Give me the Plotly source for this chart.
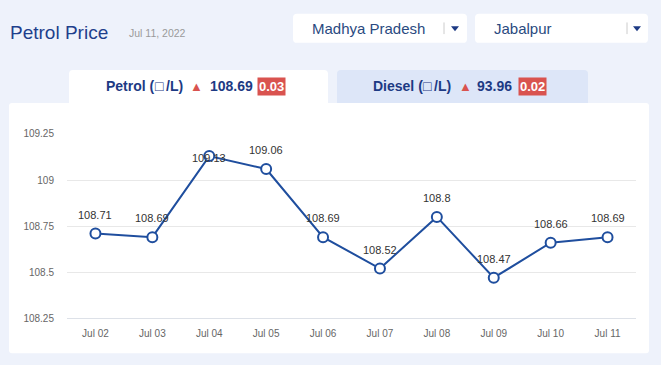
import plotly.graph_objects as go

# ---- data ----
dates = ["Jul 02", "Jul 03", "Jul 04", "Jul 05", "Jul 06", "Jul 07", "Jul 08", "Jul 09", "Jul 10", "Jul 11"]
petrol_prices = [108.71, 108.69, 109.13, 109.06, 108.69, 108.52, 108.80, 108.47, 108.66, 108.69]
y_ticks = [108.25, 108.5, 108.75, 109, 109.25]
y_tick_labels = ["108.25", "108.5", "108.75", "109", "109.25"]

title_text = "Petrol Price"
date_text = "Jul 11, 2022"
state_text = "Madhya Pradesh"
city_text = "Jabalpur"
petrol_tab = ("Petrol (", "\u25a1", "/L)", "108.69", "0.03")
diesel_tab = ("Diesel (", "\u25a1", "/L)", "93.96", "0.02")

# ---- geometry helpers (pixel -> paper) ----
W, H = 661, 365
def X(x): return x / W
def Y(y): return 1 - y / H

def rrect(x0, y0, x1, y1, r, top_only=False):
    rb = 0 if top_only else r
    pts = [
        f"M {X(x0+r)},{Y(y0)}",
        f"L {X(x1-r)},{Y(y0)}",
        f"Q {X(x1)},{Y(y0)} {X(x1)},{Y(y0+r)}",
        f"L {X(x1)},{Y(y1-rb)}",
        f"Q {X(x1)},{Y(y1)} {X(x1-rb)},{Y(y1)}",
        f"L {X(x0+rb)},{Y(y1)}",
        f"Q {X(x0)},{Y(y1)} {X(x0)},{Y(y1-rb)}",
        f"L {X(x0)},{Y(y0+r)}",
        f"Q {X(x0)},{Y(y0)} {X(x0+r)},{Y(y0)}",
        "Z",
    ]
    return " ".join(pts)

BG = "#eef2fb"
BLUE = "#1f4e9e"
DARK = "#1d3a84"
RED = "#d9534f"
FONT = "Liberation Sans, Arial, sans-serif"

# plot area in pixels
PX0, PX1 = 67, 636
PY_TOP, PY_BOT = 133, 323

fig = go.Figure()
fig.add_trace(go.Scatter(
    x=dates, y=petrol_prices, mode="lines+markers",
    line=dict(color=BLUE, width=2),
    marker=dict(size=10, color="white", line=dict(color=BLUE, width=2)),
    cliponaxis=False, hoverinfo="x+y", showlegend=False,
))

shapes = []
# white panel
shapes.append(dict(type="path", path=rrect(9, 101, 649, 359, 3), xref="paper", yref="paper",
                   fillcolor="white", line=dict(width=0), layer="below"))
# tabs
shapes.append(dict(type="path", path=rrect(69, 67, 328, 102, 4, top_only=True), xref="paper", yref="paper",
                   fillcolor="white", line=dict(width=0), layer="below"))
shapes.append(dict(type="path", path=rrect(337, 67, 588, 101, 4, top_only=True), xref="paper", yref="paper",
                   fillcolor="#dde6f8", line=dict(width=0), layer="below"))
# dropdown boxes
for (bx0, bx1, sep, tri) in [(293, 467, 444, 455), (475, 648, 627, 637)]:
    shapes.append(dict(type="path", path=rrect(bx0, 9, bx1, 39, 4), xref="paper", yref="paper",
                       fillcolor="white", line=dict(width=0), layer="below"))
    shapes.append(dict(type="line", xref="paper", yref="paper", x0=X(sep), x1=X(sep), y0=Y(18), y1=Y(30),
                       line=dict(color="#cccccc", width=1), layer="below"))
    shapes.append(dict(type="path", xref="paper", yref="paper",
                       path=f"M {X(tri-4)},{Y(22)} L {X(tri+4)},{Y(22)} L {X(tri)},{Y(27)} Z",
                       fillcolor=DARK, line=dict(width=0), layer="below"))

annotations = []
def txt(x, y, text, size, color, anchor="left", bold=False, **kw):
    t = f"<b>{text}</b>" if bold else text
    annotations.append(dict(xref="paper", yref="paper", x=X(x), y=Y(y), text=t, showarrow=False,
                            xanchor=anchor, yanchor="middle",
                            font=dict(family=FONT, size=size, color=color), **kw))

txt(8, 28, title_text, 19, "#1e3f8c")
txt(127, 29, date_text, 10.5, "#9a9a9a")
txt(310, 24, state_text, 15, "#2a4a7f")
txt(492, 24, city_text, 15, "#2a4a7f")

for (x_lab, x_box, x_unit, x_tri, x_val, x_badge), (lab, box, unit, val, chg) in [
        ((104, 159.5, 164, 196, 208, 257), petrol_tab),
        ((371, 427.5, 432, 465, 475, 518), diesel_tab)]:
    txt(x_lab, 84, lab, 14, DARK, bold=True)
    txt(x_box, 84, box, 14, DARK, anchor="center", bold=True)
    txt(x_unit, 84, unit, 14, DARK, bold=True)
    txt(x_tri, 84, "\u25b2", 13, RED, anchor="center")
    txt(x_val, 84, val, 14, DARK, bold=True)
    txt(x_badge, 84, chg, 13, "white", bold=True, bgcolor=RED, borderpad=1)

# data labels from the data through axis coordinates
for d, v in zip(dates, petrol_prices):
    point_px = PY_TOP + (y_ticks[-1] - v) / (y_ticks[-1] - y_ticks[0]) * (PY_BOT - PY_TOP)
    shift = 19 if point_px - 19 - 6 >= PY_TOP else -2
    annotations.append(dict(x=d, y=v, xref="x", yref="y", text=f"{v:g}", showarrow=False,
                            yshift=shift, xanchor="center", yanchor="middle",
                            font=dict(family=FONT, size=11, color="#333333")))

fig.update_layout(
    width=W, height=H, autosize=False,
    margin=dict(l=0, r=0, t=0, b=0),
    paper_bgcolor=BG, plot_bgcolor="rgba(0,0,0,0)",
    shapes=shapes, annotations=annotations,
    font=dict(family=FONT),
    xaxis=dict(domain=[X(PX0), X(PX1)], type="category", range=[-0.5, len(dates) - 0.5],
               showgrid=False, zeroline=False, showline=True, linecolor="#dde1e8", linewidth=1,
               ticks="", tickfont=dict(size=10, color="#666666"), ticklabelstandoff=6, fixedrange=True),
    yaxis=dict(domain=[Y(PY_BOT), Y(PY_TOP)], range=[y_ticks[0], y_ticks[-1]],
               tickvals=y_ticks, ticktext=y_tick_labels, showgrid=True, gridcolor="#e8e8e8",
               zeroline=False, showline=False, ticks="", tickfont=dict(size=10, color="#666666"),
               ticklabelstandoff=12, fixedrange=True),
)

fig.write_html(
    "out.html",
    config={"displayModeBar": False},
    post_script="document.body.style.margin='0';document.body.style.background='#eef2fb';",
)
